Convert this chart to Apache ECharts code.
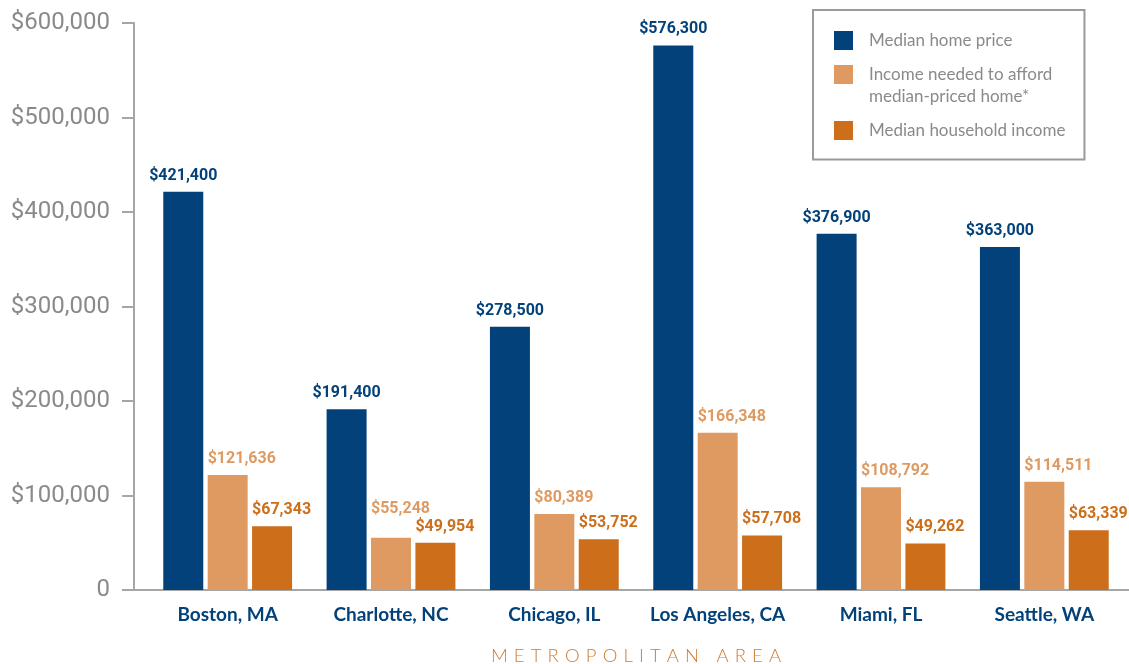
<!DOCTYPE html>
<html>
<head>
<meta charset="utf-8">
<script src="https://cdn.jsdelivr.net/npm/echarts@6/dist/echarts.min.js"></script>
<style>
  html, body { margin: 0; padding: 0; background: #fff; }
  #chart { width: 1129px; height: 664px; }
</style>
</head>
<body>
<div id="chart"></div>
<script>
const cities = ['Boston, MA', 'Charlotte, NC', 'Chicago, IL', 'Los Angeles, CA', 'Miami, FL', 'Seattle, WA']
const seriesNames = ['Median home price', 'Income needed to afford\nmedian-priced home*', 'Median household income']
const homePrice = [421400, 191400, 278500, 576300, 376900, 363000]
const incomeNeeded = [121636, 55248, 80389, 166348, 108792, 114511]
const householdIncome = [67343, 49954, 53752, 57708, 49262, 63339]
const yMin = 0
const yMax = 600000
const yStep = 100000
const xName = 'METROPOLITAN AREA'

const COLORS = ['#024179', '#de9a60', '#cc6e1a']
const AXIS_GRAY = '#a6a6a6'
const TEXT_GRAY = '#8a8a8a'
const BAR_W = 40

const money = v => v === 0 ? '0' : '$' + v.toLocaleString('en-US')
const spaced = xName.split('').join('\u2004')

const chart = echarts.init(document.getElementById('chart'))

// first series labels are centred over the bar, the income ones start at the bar's left edge
// raised: category index whose label is pushed up so it clears its neighbour
const makeBar = (name, data, color, leftAligned, raised) => ({
  name,
  type: 'bar',
  data: data.map((v, i) => i === raised ? { value: v, label: { distance: 21 } } : v),
  barWidth: BAR_W,
  barGap: '11%',
  itemStyle: { color },
  label: {
    show: true,
    position: 'top',
    distance: 8,
    align: leftAligned ? 'left' : 'center',
    offset: leftAligned ? [-BAR_W / 2, 0] : [0, 0],
    formatter: p => money(p.value),
    color,
    fontFamily: 'Roboto',
    fontWeight: 'bold',
    fontSize: 16
  }
})

// legend text: 2-line entry gets a blank first line so its first line sits level with the swatch,
// the last entry gets blank lines on both sides to keep the spacing even
const legendText = name => {
  if (name.indexOf('\n') >= 0) return '\n' + name
  if (name === seriesNames[2]) return '\n' + name + '\n'
  return name
}

const option = {
  animation: false,
  backgroundColor: '#fff',
  legend: {
    orient: 'vertical',
    left: 813,
    top: 10,
    padding: [19.5, 19, -4, 21],
    itemGap: -10,
    itemWidth: 19,
    itemHeight: 19,
    borderColor: '#9a9a9a',
    borderWidth: 2,
    icon: 'rect',
    formatter: legendText,
    textStyle: {
      color: TEXT_GRAY,
      fontFamily: 'Lato',
      fontSize: 17,
      lineHeight: 22,
      padding: [0, 0, 0, 11]
    },
    data: seriesNames
  },
  grid: [
    { left: 146, right: 3, top: 23, bottom: 74, outerBoundsMode: 'none', containLabel: false },
    { left: 134, right: 0, top: 23, bottom: 74, outerBoundsMode: 'none', containLabel: false }
  ],
  xAxis: [
    {
      type: 'category',
      data: cities,
      gridIndex: 0,
      axisLine: { show: false },
      axisTick: { show: false },
      axisLabel: {
        interval: 0,
        color: COLORS[0],
        fontFamily: 'Lato',
        fontWeight: 'bold',
        fontSize: 19,
        margin: 15
      },
      name: spaced,
      nameLocation: 'middle',
      nameGap: 57,
      nameTextStyle: {
        color: '#d27a2e',
        fontFamily: 'Lato',
        fontWeight: 300,
        fontSize: 18.5
      }
    },
    {
      type: 'value',
      gridIndex: 1,
      axisLine: { show: true, onZero: false, lineStyle: { color: AXIS_GRAY, width: 2 } },
      axisTick: { show: false },
      axisLabel: { show: false },
      splitLine: { show: false }
    }
  ],
  yAxis: [
    {
      type: 'value',
      gridIndex: 0,
      min: yMin,
      max: yMax,
      interval: yStep,
      offset: 12,
      axisLine: { show: true, lineStyle: { color: AXIS_GRAY, width: 2 } },
      axisTick: { show: true, length: 12, lineStyle: { color: AXIS_GRAY, width: 2 } },
      splitLine: { show: false },
      axisLabel: {
        color: TEXT_GRAY,
        fontFamily: 'Roboto',
        fontSize: 24,
        margin: 24,
        formatter: money
      }
    },
    { type: 'value', gridIndex: 1, show: false }
  ],
  series: [
    makeBar(seriesNames[0], homePrice, COLORS[0], false, -1),
    makeBar(seriesNames[1], incomeNeeded, COLORS[1], true, 1),
    makeBar(seriesNames[2], householdIncome, COLORS[2], true, -1)
  ]
}

chart.setOption(option)
</script>
</body>
</html>
